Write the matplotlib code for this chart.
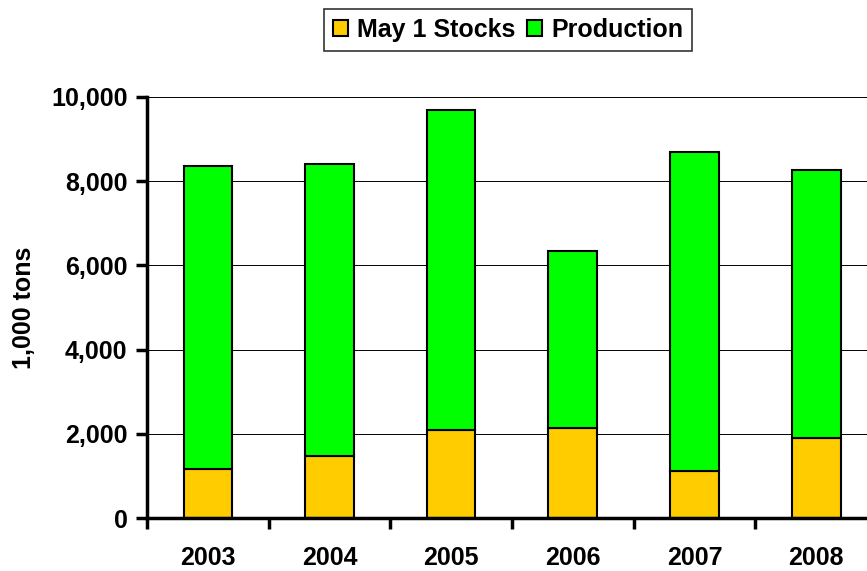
import matplotlib.pyplot as plt
import numpy as np

# valores (1.000 toneladas)
years = ['2003', '2004', '2005', '2006', '2007', '2008']
stocks = [1160, 1470, 2090, 2140, 1120, 1900]
totals = [8360, 8410, 9690, 6340, 8690, 8270]
production = [t - s for t, s in zip(totals, stocks)]
yticks = [0, 2000, 4000, 6000, 8000, 10000]

plt.rcParams['font.family'] = ['Liberation Sans', 'DejaVu Sans']
plt.rcParams['font.weight'] = 'bold'

fig = plt.figure(figsize=(8.67, 5.71), dpi=100)
# eixo estendido além da borda direita, como no original
ax = fig.add_axes([147 / 867, 53 / 571, 730 / 867, 421 / 571])

x = np.arange(len(years))
ax.bar(x, stocks, width=0.4, color='#FFCC00', edgecolor='black', linewidth=1.5,
       label='May 1 Stocks', zorder=3)
ax.bar(x, production, width=0.4, bottom=stocks, color='#00FF00', edgecolor='black',
       linewidth=1.5, label='Production', zorder=3)

ax.set_xlim(-0.5, len(years) - 0.5)
ax.set_ylim(0, 10000)
ax.set_yticks(yticks)
ax.set_yticklabels([f'{v:,}' for v in yticks], fontsize=18, fontweight='bold')
ax.set_xticks(x)
ax.set_xticklabels(years, fontsize=18, fontweight='bold')
ax.tick_params(axis='x', length=0, pad=20)
ax.set_xticks(np.arange(len(years) + 1) - 0.5, minor=True)
ax.tick_params(axis='x', which='minor', length=8, width=2.5, direction='out')
ax.tick_params(axis='y', length=8, width=2.5, direction='out', pad=6)
ax.yaxis.grid(True, color='black', linewidth=0.7, zorder=0)

for side in ['top', 'right']:
    ax.spines[side].set_visible(False)
ax.spines['left'].set_linewidth(2.5)
ax.spines['bottom'].set_linewidth(2.5)
ax.spines['left'].set_zorder(4)
ax.spines['bottom'].set_zorder(4)

ax.set_ylabel('1,000 tons', fontsize=18, fontweight='bold', labelpad=11)

leg = fig.legend(loc='center', bbox_to_anchor=(508 / 867, 1 - 30 / 571), ncol=2,
                 frameon=True, fancybox=False, edgecolor='black',
                 handlelength=0.6, handleheight=0.6, handletextpad=0.35,
                 columnspacing=0.5, borderpad=0.35, prop={'weight': 'bold', 'size': 18})
leg.get_frame().set_linewidth(1.2)

fig.savefig('out.png', dpi=100)
